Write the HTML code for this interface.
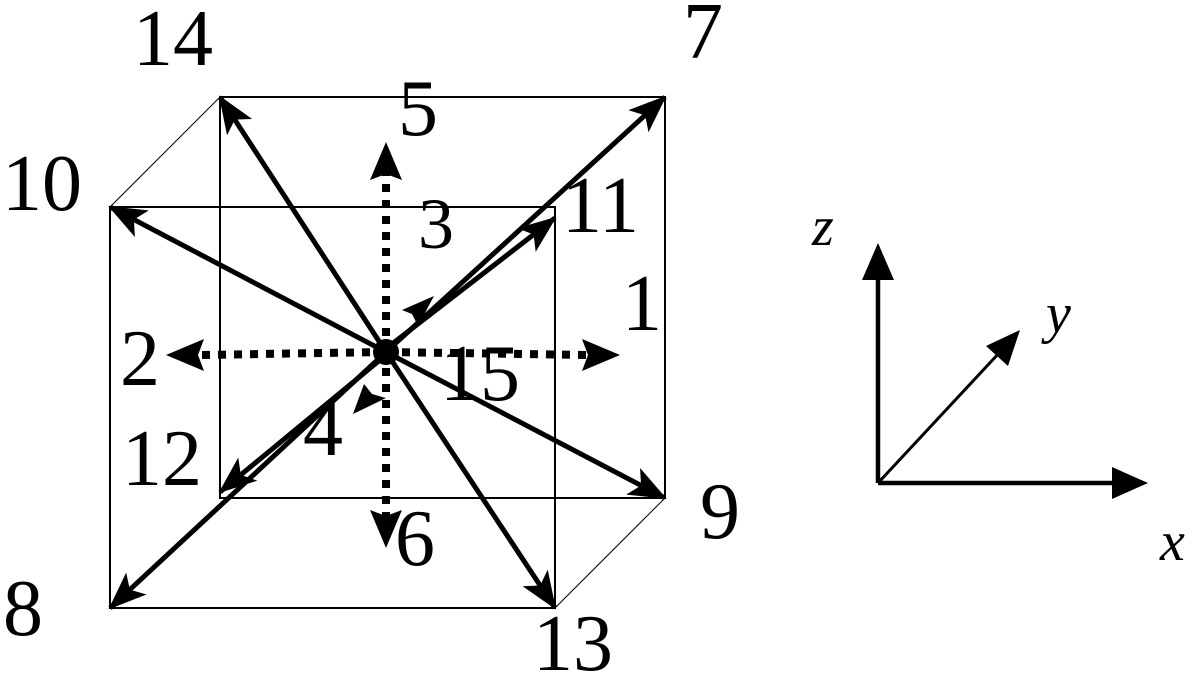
<!DOCTYPE html>
<html><head><style>
html,body{margin:0;padding:0;background:#fff;}
svg text{font-family:"Liberation Serif",serif;font-size:80px;fill:#000;}
</style></head><body>
<svg width="1197" height="675" viewBox="0 0 1197 675" xmlns="http://www.w3.org/2000/svg">
<defs>
<marker id="a" markerWidth="38" markerHeight="30" refX="36" refY="15" orient="auto" markerUnits="userSpaceOnUse" viewBox="0 0 38 30">
<polygon points="0,0 38,15 0,30 9,15" fill="#000"/>
</marker>
</defs>
<g stroke="#000" fill="none" stroke-width="2">
<rect x="110" y="207" width="445" height="401"/>
<rect x="220" y="97" width="445" height="401"/>
<line x1="110" y1="207" x2="220" y2="97" stroke-width="1"/>
<line x1="555" y1="608" x2="665" y2="498" stroke-width="1"/>
</g>
<g stroke="#000" stroke-width="5" marker-end="url(#a)">
<line x1="386" y1="352" x2="220" y2="97"/>
<line x1="386" y1="352" x2="665" y2="97"/>
<line x1="386" y1="352" x2="110" y2="207"/>
<line x1="392" y1="344" x2="555" y2="218"/>
<line x1="386" y1="352" x2="110" y2="608"/>
<line x1="380" y1="360" x2="220" y2="492"/>
<line x1="386" y1="352" x2="665" y2="498"/>
<line x1="386" y1="352" x2="555" y2="608"/>
</g>
<g stroke="#000" stroke-width="8" stroke-dasharray="8,8">
<line x1="386" y1="352" x2="386" y2="172"/>
<line x1="386" y1="352" x2="386" y2="520"/>
<line x1="386" y1="352" x2="200" y2="355"/>
<line x1="386" y1="352" x2="590" y2="355"/>
</g>
<circle cx="386" cy="352" r="13" fill="#000"/>
<g fill="#000">
<polygon points="386,142 370,180 386,174 402,180"/>
<polygon points="386,548 370,510 386,516 402,510"/>
<polygon points="166,355 204,339 198,355 204,371"/>
<polygon points="620,355 582,339 588,355 582,371"/>
<polygon points="434,296 402,310 412,314 418,326"/>
<polygon points="353,414 364,384 372,394 386,398"/>
</g>
<g stroke="#000" stroke-width="4.5">
<line x1="878" y1="483" x2="878" y2="275"/>
<line x1="878" y1="483" x2="1115" y2="483"/>
<line x1="878" y1="483" x2="1000" y2="352" stroke-width="3"/>
</g>
<g fill="#000">
<polygon points="878,243 862,280 894,280"/>
<polygon points="1148,483 1112,467 1112,499"/>
<polygon points="1020,330 1008,366 986,346"/>
</g>
<text x="133" y="65">14</text>
<text x="683" y="58">7</text>
<text x="398" y="135">5</text>
<text x="2" y="210">10</text>
<text x="418" y="248" style="font-size:72px">3</text>
<text x="562" y="232">11</text>
<text x="622" y="330">1</text>
<text x="120" y="385">2</text>
<text x="440" y="400">15</text>
<text x="122" y="485">12</text>
<text x="303" y="455">4</text>
<text x="700" y="538">9</text>
<text x="395" y="565">6</text>
<text x="3" y="635">8</text>
<text x="533" y="670">13</text>
<text x="812" y="245" font-style="italic" style="font-size:56px">z</text>
<text x="1046" y="332" font-style="italic" style="font-size:56px">y</text>
<text x="1160" y="560" font-style="italic" style="font-size:56px">x</text>
</svg>
</body></html>
